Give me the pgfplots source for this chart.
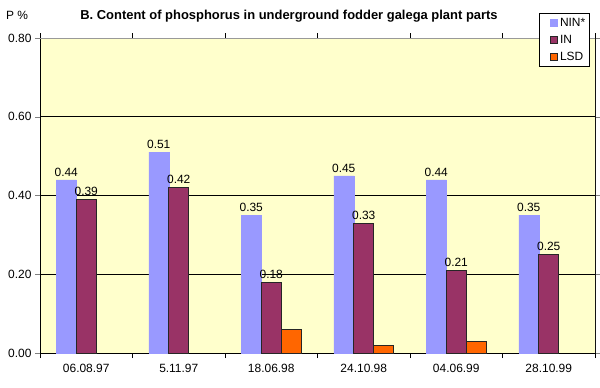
\documentclass[border=0pt]{standalone}
\usepackage{pgfplots}
\pgfplotsset{compat=1.18}
\usepackage{fontspec}
\setmainfont{Liberation Sans}
\definecolor{nin}{HTML}{9999FF}
\definecolor{inc}{HTML}{993366}
\definecolor{lsd}{HTML}{FF6600}
\definecolor{bgc}{HTML}{FFFFCC}
\begin{document}
\begin{tikzpicture}[x=1bp,y=1bp]
\useasboundingbox (0,0) rectangle (600,387);
\node[font=\fontsize{13}{15}\selectfont\bfseries] at (289,371) {B. Content of phosphorus in underground fodder galega plant parts};
\node[font=\fontsize{12}{14}\selectfont] at (17,372) {P \%};
\begin{axis}[
  at={(40bp,34bp)}, anchor=south west,
  scale only axis, width=555bp, height=315bp,
  xmin=-0.5, xmax=5.5, ymin=0, ymax=0.8,
  ybar=0pt, bar width=20bp,
  xtick={0,...,5},
  xticklabels={06.08.97,5.11.97,18.06.98,24.10.98,04.06.99,28.10.99},
  minor xtick={-0.5,0.5,...,5.5},
  major x tick style={draw=none},
  minor x tick style={black},
  ytick={0,0.2,...,0.8},
  ymajorgrids, grid style={black, line width=0.6bp},
  tick align=outside,
  major tick length=5bp, minor tick length=5bp,
  axis line style={black, line width=0.6bp},
  axis background/.style={fill=bgc},
  tick label style={font=\fontsize{12}{14}\selectfont},
  xticklabel style={yshift=-3bp},
  /pgf/number format/assume math mode=true,
  y tick label style={/pgf/number format/.cd, fixed, fixed zerofill, precision=2},
  nodes near coords style={font=\fontsize{12}{14}\selectfont, /pgf/number format/.cd, fixed, fixed zerofill, precision=2, assume math mode=true},
  legend style={at={(0.99,1.079)}, anchor=north east, draw=black, fill=white,
    font=\fontsize{12}{14}\selectfont, row sep=3bp, inner xsep=2bp, inner ysep=3bp,
    nodes={inner xsep=2bp}},
  legend cell align=left,
  legend image code/.code={\path (0bp,0bp); \draw[#1] (9bp,-3.5bp) rectangle (16bp,3.5bp);},
]
\addplot[fill=nin, draw=nin, line width=0.5bp, nodes near coords] coordinates {(0,0.44) (1,0.51) (2,0.35) (3,0.45) (4,0.44) (5,0.35)};
\addlegendentry{NIN*}
\addplot[fill=inc, draw=black!85, line width=0.6bp, nodes near coords] coordinates {(0,0.39) (1,0.42) (2,0.18) (3,0.33) (4,0.21) (5,0.25)};
\addlegendentry{IN}
\addplot[fill=lsd, draw=black!85, line width=0.6bp] coordinates {(2,0.06) (3,0.02) (4,0.03)};
\addlegendentry{LSD}
\draw[gray!80, line width=0.8bp] (rel axis cs:0,1) -- (rel axis cs:1,1) -- (rel axis cs:1,0);
\end{axis}
\end{tikzpicture}
\end{document}
